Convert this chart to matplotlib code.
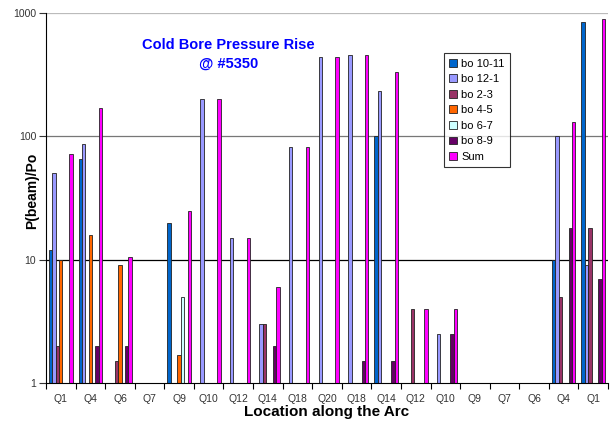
import numpy as np
import matplotlib.pyplot as plt

plt.rcParams['font.family'] = ['Liberation Sans', 'DejaVu Sans']

locations = ["Q1", "Q4", "Q6", "Q7", "Q9", "Q10", "Q12", "Q14", "Q18", "Q20",
             "Q18", "Q14", "Q12", "Q10", "Q9", "Q7", "Q6", "Q4", "Q1"]

# 0 means no reading at that location
bo_10_11 = [12, 65, 0, 0, 20, 0, 0, 0, 0, 0, 0, 100, 0, 0, 0, 0, 0, 10, 850]
bo_12_1 = [50, 86, 0, 0, 0, 200, 15, 3, 82, 440, 455, 232, 0, 2.5, 0, 0, 0, 100, 9]
bo_2_3 = [2, 0, 1.5, 0, 0, 0, 0, 3, 0, 0, 0, 0, 4, 0, 0, 0, 0, 5, 18]
bo_4_5 = [10, 16, 9, 0, 1.7, 0, 0, 0, 0, 0, 0, 0, 0, 0, 0, 0, 0, 0, 0]
bo_6_7 = [0, 0, 0, 0, 5, 0, 0, 0, 0, 0, 0, 0, 0, 0, 0, 0, 0, 0, 0]
bo_8_9 = [0, 2, 2, 0, 0, 0, 0, 2, 0, 0, 1.5, 1.5, 0, 2.5, 0, 0, 0, 18, 7]
total = [72, 169, 10.5, 0, 25, 200, 15, 6, 82, 440, 455, 335, 4, 4, 0, 0, 0, 130, 890]

series = [("bo 10-11", bo_10_11, "#0066CC"),
          ("bo 12-1", bo_12_1, "#9999FF"),
          ("bo 2-3", bo_2_3, "#993366"),
          ("bo 4-5", bo_4_5, "#FF6600"),
          ("bo 6-7", bo_6_7, "#CCFFFF"),
          ("bo 8-9", bo_8_9, "#660066"),
          ("Sum", total, "#FF00FF")]

fig = plt.figure(figsize=(6.15, 4.21), dpi=100)
ax = fig.add_axes([0.0748, 0.0903, 0.9138, 0.8787])

n = len(locations)
x = np.arange(n)
gap = 0.2
w = (1 - gap) / len(series)

for i, (name, vals, col) in enumerate(series):
    vals = np.array(vals, dtype=float)
    pos = x - 0.5 + gap / 2 + w * i + w / 2
    keep = vals > 0
    # bars start at the axis floor (1) and end at the value
    ax.bar(pos[keep], vals[keep] - 1, width=w, bottom=1, color=col,
           edgecolor="#222222", linewidth=0.6, label=name)

ax.set_yscale("log")
ax.set_ylim(1, 1000)
ax.set_xlim(-0.5, n - 0.5)

# horizontal grid lines
ax.axhline(10, color="black", lw=0.9, zorder=0)
ax.axhline(100, color="#777777", lw=0.9, zorder=0)
ax.axhline(1000, color="#bbbbbb", lw=0.9, zorder=0)

ax.set_yticks([1, 10, 100, 1000])
ax.set_yticklabels(["1", "10", "100", "1000"])
ax.yaxis.set_minor_locator(plt.NullLocator())
ax.tick_params(axis="y", which="major", length=5, width=0.8, labelsize=7.5,
               pad=2, colors="#333333")

ax.set_xticks(x)
ax.set_xticklabels(locations)
ax.set_xticks(np.arange(n + 1) - 0.5, minor=True)
ax.tick_params(axis="x", which="major", length=0, labelsize=7.5, pad=8,
               colors="#333333")
ax.tick_params(axis="x", which="minor", length=4, width=0.8)

for s in ["top", "right"]:
    ax.spines[s].set_visible(False)
ax.spines["left"].set_color("black")
ax.spines["bottom"].set_color("black")

ax.set_ylabel("P(beam)/Po", fontsize=10, fontweight="bold")
ax.yaxis.set_label_coords(-0.012, 0.52)
ax.set_xlabel("Location along the Arc", fontsize=11, fontweight="bold",
              labelpad=1)

fig.text(0.371, 0.871, "Cold Bore Pressure Rise\n@ #5350", color="#0000FF",
         fontsize=10.5, fontweight="bold", ha="center", va="center",
         linespacing=1.35)

leg = ax.legend(loc="upper left", bbox_to_anchor=(0.708, 0.892), fontsize=8,
                frameon=True, fancybox=False, edgecolor="black",
                handlelength=0.7, handleheight=0.7, handletextpad=0.35,
                labelspacing=0.5, borderpad=0.5, borderaxespad=0)
leg.get_frame().set_linewidth(0.8)

fig.savefig("out.png", dpi=100)
